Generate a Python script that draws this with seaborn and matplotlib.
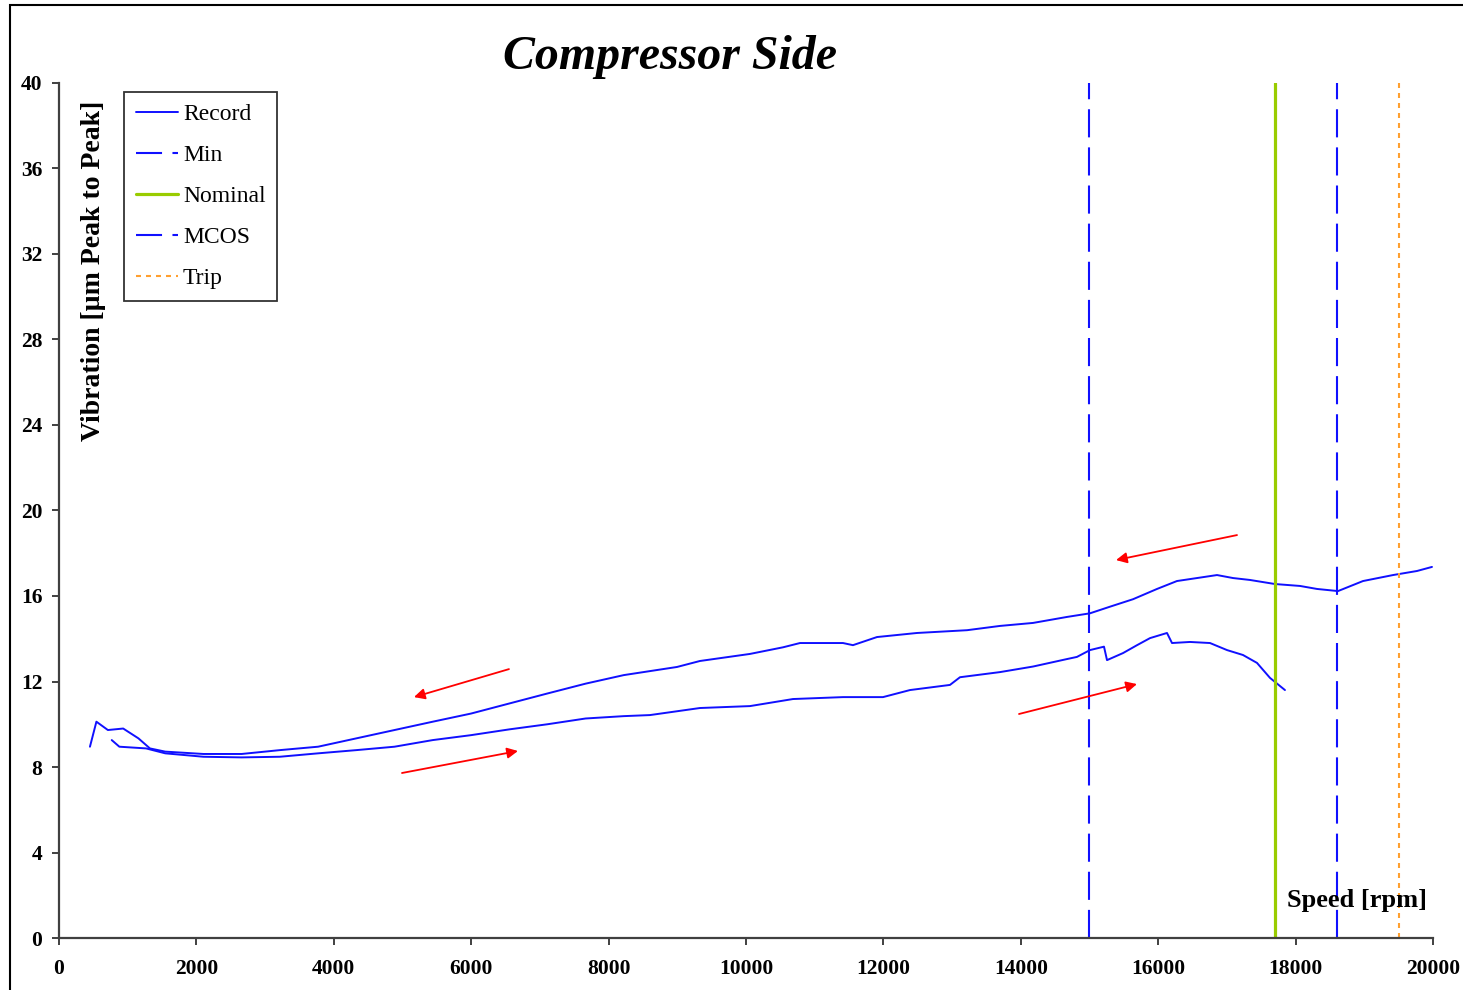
import numpy as np
import pandas as pd
import matplotlib
matplotlib.use("Agg")
import matplotlib.pyplot as plt
from matplotlib.lines import Line2D
from matplotlib.patches import Rectangle
import seaborn as sns

# Run-up record (speed rising)
runup_speed = [768, 879, 1268, 1547, 2103, 2659, 3215, 3772, 4328, 4884, 5441, 5997,
               6553, 7110, 7666, 8222, 8603, 9330, 10058, 10684, 11412, 11994, 12387,
               12969, 13115, 13697, 14178, 14672, 14817, 15007, 15211, 15255, 15488,
               15692, 15881, 16128, 16201, 16463, 16754, 17002, 17234, 17438, 17627, 17845]
runup_vib = [9.26, 8.95, 8.87, 8.64, 8.48, 8.45, 8.48, 8.64, 8.79, 8.95, 9.26, 9.49,
             9.76, 10.0, 10.27, 10.38, 10.43, 10.76, 10.85, 11.18, 11.27, 11.27, 11.6,
             11.84, 12.2, 12.44, 12.7, 13.05, 13.15, 13.47, 13.63, 13.0, 13.33,
             13.7, 14.03, 14.27, 13.8, 13.85, 13.8, 13.47, 13.24, 12.87, 12.17, 11.6]

# Run-down record (speed falling), listed by increasing speed
rundown_speed = [451, 545, 712, 935, 1157, 1324, 1547, 2103, 2659, 3215, 3772, 4328,
                 4884, 5441, 5997, 6553, 7110, 7666, 8222, 8996, 9330, 10058, 10539,
                 10786, 11412, 11557, 11907, 12489, 13217, 13697, 14178, 14672, 15007,
                 15298, 15634, 15983, 16273, 16565, 16856, 17089, 17336, 17700, 18064,
                 18311, 18617, 18981, 19418, 19767, 19985]
rundown_vib = [8.95, 10.12, 9.73, 9.8, 9.34, 8.87, 8.72, 8.61, 8.61, 8.79, 8.95, 9.34,
               9.73, 10.12, 10.5, 10.97, 11.44, 11.9, 12.3, 12.68, 12.96, 13.29, 13.6,
               13.8, 13.8, 13.7, 14.08, 14.27, 14.4, 14.6, 14.74, 15.02, 15.19,
               15.5, 15.85, 16.33, 16.7, 16.84, 16.98, 16.84, 16.75, 16.56, 16.47,
               16.33, 16.23, 16.7, 16.98, 17.17, 17.36]

# Reference speeds
min_speed = 15000
nominal_speed = 17700
mcos_speed = 18600
trip_speed = 19500

# Direction arrows: (start speed, start vib, end speed, end vib)
arrows = [
    (6550, 12.58, 5167, 11.27),
    (4993, 7.72, 6681, 8.75),
    (17147, 18.85, 15386, 17.68),
    (13974, 10.48, 15691, 11.88),
]

x_ticks = list(range(0, 20001, 2000))
y_ticks = list(range(0, 41, 4))
legend_labels = ["Record", "Min", "Nominal", "MCOS", "Trip"]

sns.set_theme(style="white")
plt.rcParams["font.family"] = ["Liberation Serif", "DejaVu Serif"]
plt.rcParams["text.color"] = "black"
plt.rcParams["xtick.color"] = "black"
plt.rcParams["ytick.color"] = "black"
plt.rcParams["axes.labelcolor"] = "black"

BLUE = "#1010FF"
GREEN = "#99CC00"
ORANGE = "#FFA030"
SPINE = "#404040"
LIMIT_DASH = (13.5, 4.8)
LEGEND_DASH = (12.5, 5, 3.4, 10)
TRIP_DASH = (2.4, 2.4)

fig = plt.figure(figsize=(14.63, 9.9), dpi=100)
ax = fig.add_axes([0.0403, 0.0525, 0.9392, 0.8637])

records = pd.concat([
    pd.DataFrame({"speed": runup_speed, "vib": runup_vib, "run": "up"}),
    pd.DataFrame({"speed": rundown_speed, "vib": rundown_vib, "run": "down"}),
])
for run, grp in records.groupby("run", sort=False):
    sns.lineplot(data=grp, x="speed", y="vib", ax=ax, sort=False,
                 color=BLUE, lw=1.4, estimator=None)

ax.axvline(min_speed, color=BLUE, lw=1.5, dashes=LIMIT_DASH)
ax.axvline(nominal_speed, color=GREEN, lw=2.3)
ax.axvline(mcos_speed, color=BLUE, lw=1.5, dashes=LIMIT_DASH)
ax.axvline(trip_speed, color=ORANGE, lw=1.5, dashes=TRIP_DASH)

for x0, y0, x1, y1 in arrows:
    ax.annotate("", xy=(x1, y1), xytext=(x0, y0),
                arrowprops=dict(arrowstyle="-|>", color="red", lw=1.3,
                                mutation_scale=16, shrinkA=0, shrinkB=0))

ax.set_xlim(0, 20000)
ax.set_ylim(0, 40)
ax.set_xticks(x_ticks)
ax.set_yticks(y_ticks)
ax.set_xticklabels([str(t) for t in x_ticks], fontsize=15.5, fontweight="bold")
ax.set_yticklabels([str(t) for t in y_ticks], fontsize=15.5, fontweight="bold")
ax.tick_params(axis="both", direction="out", length=5, width=1.4, color=SPINE,
               bottom=True, left=True)
ax.tick_params(axis="x", pad=10)
ax.tick_params(axis="y", pad=7)

for side in ("top", "right"):
    ax.spines[side].set_visible(False)
for side in ("left", "bottom"):
    ax.spines[side].set_color(SPINE)
    ax.spines[side].set_linewidth(1.6)

ax.set_xlabel("")
ax.set_ylabel("Vibration [\u00b5m Peak to Peak]", fontsize=20, fontweight="bold",
              labelpad=0)
ax.yaxis.set_label_coords(0.034, 0.78)
ax.text(0.9955, 0.036, "Speed [rpm]", transform=ax.transAxes, ha="right",
        va="baseline", fontsize=19, fontweight="bold")

fig.text(0.458, 0.942, "Compressor Side", ha="center", va="center",
         fontsize=34.5, fontweight="bold", fontstyle="italic")

handles = [
    Line2D([], [], color=BLUE, lw=1.4),
    Line2D([], [], color=BLUE, lw=1.5, dashes=LEGEND_DASH),
    Line2D([], [], color=GREEN, lw=2.3),
    Line2D([], [], color=BLUE, lw=1.5, dashes=LEGEND_DASH),
    Line2D([], [], color=ORANGE, lw=1.5, dashes=TRIP_DASH),
]
leg = ax.legend(handles, legend_labels, loc="upper left",
                bbox_to_anchor=(0.0473, 0.9895), borderaxespad=0, fontsize=17,
                frameon=True, fancybox=False, handlelength=1.8, handletextpad=0.2,
                labelspacing=0.82, borderpad=0.5)
leg.get_frame().set_edgecolor("black")
leg.get_frame().set_linewidth(1.3)

# Outer chart frame
fig.add_artist(Rectangle((10 / 1463, -0.05), 1.2, 1.05 - 5 / 990,
                         transform=fig.transFigure, fill=False,
                         edgecolor="black", lw=1.5, clip_on=False))

fig.savefig("out.png", dpi=100)
